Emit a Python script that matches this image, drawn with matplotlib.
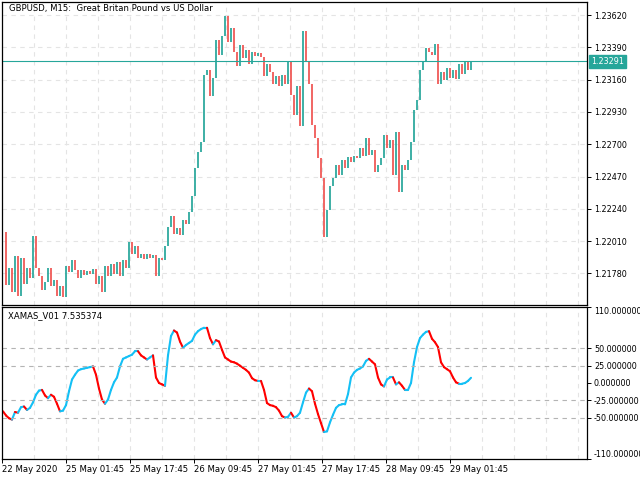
import matplotlib
matplotlib.use("Agg")
import matplotlib.pyplot as plt
import numpy as np
from matplotlib.collections import LineCollection
from matplotlib.ticker import FixedLocator

# GBPUSD M15 closes, one every 3 bars
closes = [
    1.22075, 1.21698, 1.21819, 1.21648, 1.21904, 1.21620, 1.21890, 1.21705, 1.21819, 1.21748,
    1.22047, 1.21819, 1.21762, 1.21662, 1.21719, 1.21819, 1.21691, 1.21733, 1.21620, 1.21691,
    1.21609, 1.21833, 1.21790, 1.21876, 1.21805, 1.21748, 1.21805, 1.21769, 1.21797, 1.21776,
    1.21812, 1.21705, 1.21762, 1.21648, 1.21833, 1.21762, 1.21847, 1.21776, 1.21862, 1.21762,
    1.21876, 1.21819, 1.22004, 1.21919, 1.21975, 1.21890, 1.21919, 1.21883, 1.21919, 1.21890,
    1.21911, 1.21762, 1.21890, 1.21876, 1.21975, 1.22107, 1.22190, 1.22061, 1.22104, 1.22054,
    1.22161, 1.22132, 1.22218, 1.22332, 1.22531, 1.22645, 1.22716, 1.23193, 1.23229, 1.23043,
    1.23172, 1.23442, 1.23335, 1.23471, 1.23615, 1.23428, 1.23528, 1.23357, 1.23257, 1.23407,
    1.23314, 1.23371, 1.23271, 1.23357, 1.23328, 1.23350, 1.23321, 1.23186, 1.23271, 1.23214,
    1.23129, 1.23186, 1.23115, 1.23193, 1.23129, 1.23286, 1.23051, 1.22908, 1.23115, 1.22830,
    1.23505, 1.23286, 1.23129, 1.22837, 1.22744, 1.22602, 1.22460, 1.22040, 1.22232, 1.22403,
    1.22460, 1.22552, 1.22481, 1.22588, 1.22531, 1.22609, 1.22574, 1.22616, 1.22602, 1.22673,
    1.22616, 1.22744, 1.22623, 1.22659, 1.22504, 1.22552, 1.22602, 1.22766, 1.22673, 1.22730,
    1.22481, 1.22787, 1.22360, 1.22552, 1.22517, 1.22588, 1.22716, 1.22944, 1.23015, 1.23229,
    1.23286, 1.23385, 1.23357, 1.23335, 1.23414, 1.23129, 1.23214, 1.23157, 1.23243, 1.23172,
    1.23229, 1.23165, 1.23271, 1.23200, 1.23286, 1.23229, 1.23291,
]

# XAMAS_V01 values at the same bars
xamas = [
    -41, -47, -51, -53, -42, -43, -35, -34, -39, -36,
    -28, -17, -11, -10, -18, -22, -17, -20, -30, -41,
    -40, -32, -12, 5, 12, 18, 20, 21, 22, 23,
    24, 12, -8, -24, -30, -24, -10, 1, 8, 24,
    35, 37, 39, 41, 46, 46, 40, 37, 34, 37,
    40, 8, 0, -2, -4, 40, 68, 76, 73, 60,
    51, 55, 58, 61, 70, 75, 78, 80, 80, 65,
    56, 62, 60, 48, 37, 34, 31, 30, 28, 25,
    22, 19, 15, 7, 4, 3, 3, -10, -29, -32,
    -33, -35, -40, -48, -50, -49, -43, -50, -48, -43,
    -28, -14, -8, -12, -30, -45, -58, -71, -70, -57,
    -46, -36, -32, -31, -31, -16, 8, 15, 19, 21,
    24, 32, 35, 31, 27, 8, -2, -5, 5, 8,
    8, -2, 1, -4, -10, -10, 0, 30, 52, 65,
    70, 74, 75, 64, 59, 52, 30, 23, 20, 17,
    8, 1, -1, -1, 0, 3, 7.535374,
]

bars_per_sample = 3
last_price = 1.23291
price_ticks = [1.23620, 1.23390, 1.23160, 1.22930, 1.22700, 1.22470, 1.22240, 1.22010, 1.21780]
xamas_ticks = [110, 50, 25, 0, -25, -50, -110]
xamas_levels = [50, 25, -25, -50]
time_labels = ["22 May 2020", "25 May 01:45", "25 May 17:45", "26 May 09:45",
               "27 May 01:45", "27 May 17:45", "28 May 09:45", "29 May 01:45"]
bars_per_label = 64

UP = "#26a69a"
DOWN = "#ef5350"
BLUE = "#14c0f5"
RED = "#ff0000"
GRID = "#e4e4e4"
FS = 5.8
plt.rcParams["font.family"] = ["DejaVu Sans"]

fig = plt.figure(figsize=(6.4, 4.8), dpi=100)
W, H = 640.0, 480.0
ax1 = fig.add_axes([2 / W, 1 - 305 / H, 585 / W, 303 / H])
ax2 = fig.add_axes([2 / W, 1 - 459 / H, 585 / W, 152 / H])

closes = np.array(closes)
opens = np.concatenate([[closes[0]], closes[:-1]])
x = np.arange(len(closes)) * bars_per_sample
up = closes >= opens
lo = np.minimum(opens, closes)
hi = np.maximum(opens, closes)
ax1.vlines(x[up], lo[up], hi[up], color=UP, lw=1.25)
ax1.vlines(x[~up], lo[~up], hi[~up], color=DOWN, lw=1.25)
ax1.axhline(last_price, color=UP, lw=0.8)

label_pos = [-1 + bars_per_label * k for k in range(len(time_labels))]
grid_pos = [-1 + bars_per_label // 2 * k for k in range(1, 19)]
xmax = 584

for ax in (ax1, ax2):
    ax.set_xlim(-1, xmax)
    ax.xaxis.set_major_locator(FixedLocator(label_pos))
    ax.xaxis.set_minor_locator(FixedLocator(grid_pos))
    ax.grid(True, axis="x", which="both", color=GRID, lw=0.8, ls=(0, (4, 4)))
    ax.yaxis.tick_right()
    ax.tick_params(axis="y", length=3, width=0.7, labelsize=FS, pad=2)
    ax.tick_params(axis="x", which="minor", length=0)
    for s in ax.spines.values():
        s.set_linewidth(0.9)
        s.set_color("black")

ax1.set_ylim(1.21555, 1.23713)
ax1.set_yticks(price_ticks)
ax1.set_yticklabels(["%.5f" % p for p in price_ticks])
ax1.grid(True, axis="y", color=GRID, lw=0.8, ls=(0, (4, 4)))
ax1.tick_params(axis="x", which="major", length=0, labelbottom=False)
ax1.text(7 / 585, 1 - 7 / 303, "GBPUSD, M15:  Great Britan Pound vs US Dollar",
         transform=ax1.transAxes, fontsize=FS + 0.3, va="center", ha="left")
ax1.text(1 + 4 / 585, last_price, "%.5f" % last_price, transform=ax1.get_yaxis_transform(),
         fontsize=FS, color="white", va="center", ha="left", clip_on=False,
         bbox=dict(boxstyle="square,pad=0.25", fc=UP, ec=UP))

# indicator line, blue when rising, red when falling
xv = np.arange(len(xamas)) * bars_per_sample
pts = np.column_stack([xv, xamas])
segs = np.stack([pts[:-1], pts[1:]], axis=1)
cols = [BLUE if b >= a else RED for a, b in zip(xamas[:-1], xamas[1:])]
ax2.add_collection(LineCollection(segs, colors=cols, lw=1.5, capstyle="round"))
for lv in xamas_levels:
    ax2.axhline(lv, color="#b4b4b4", lw=0.8, ls=(0, (4, 4)))
ax2.set_ylim(-110, 110)
ax2.set_yticks(xamas_ticks)
ax2.set_yticklabels(["%.6f" % v for v in xamas_ticks])
tl = ax2.get_yticklabels()
tl[0].set_va("top")
tl[-1].set_va("bottom")
ax2.text(6 / 585, 1 - 9 / 152, "XAMAS_V01 %.6f" % xamas[-1], transform=ax2.transAxes,
         fontsize=FS + 0.3, va="center", ha="left")
ax2.set_xticklabels(time_labels)
ax2.tick_params(axis="x", which="major", length=3, width=0.7, labelsize=FS + 0.3, pad=1.5)
for t in ax2.get_xticklabels():
    t.set_ha("left")

fig.savefig("out.png", dpi=100)
